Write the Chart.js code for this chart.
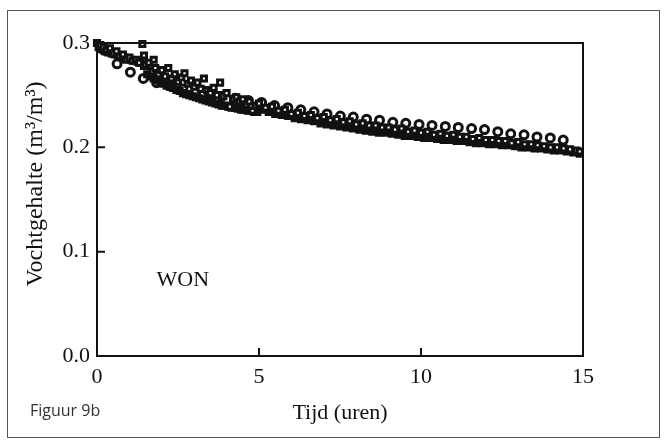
<!DOCTYPE html>
<html>
<head>
<meta charset="utf-8">
<script src="https://cdn.jsdelivr.net/npm/chart.js@4.4.0/dist/chart.umd.min.js"></script>
<style>
  html, body { margin: 0; padding: 0; background: #fff; }
  #wrap { position: relative; width: 667px; height: 443px; }
</style>
</head>
<body>
<div id="wrap"><canvas id="chart" width="667" height="443"></canvas></div>
<script>
// squares (measured, dense) - upper part of the band
const sqTime = [0.0, 0.1, 0.2, 0.3, 0.4, 0.5, 0.6, 0.7, 0.8, 0.9,
  1.0, 1.1, 1.2, 1.3, 1.4, 1.45, 1.5, 1.6, 1.7, 1.75, 1.8, 1.9,
  2.0, 2.1, 2.2, 2.3, 2.4, 2.5, 2.6, 2.7, 2.8, 2.9,
  3.0, 3.1, 3.2, 3.3, 3.4, 3.5, 3.6, 3.7, 3.8, 3.9,
  4.0, 4.1, 4.2, 4.3, 4.4, 4.5, 4.6, 4.7, 4.8, 4.9, 5.0,
  5.2, 5.4, 5.6, 5.8, 6.0, 6.2, 6.4, 6.6, 6.8, 7.0,
  7.2, 7.4, 7.6, 7.8, 8.0, 8.2, 8.4, 8.6, 8.8, 9.0,
  9.2, 9.4, 9.6, 9.8, 10.0, 10.2, 10.4, 10.6, 10.8, 11.0,
  11.2, 11.4, 11.6, 11.8, 12.0, 12.2, 12.4, 12.6, 12.8, 13.0,
  13.2, 13.4, 13.6, 13.8, 14.0, 14.2, 14.4, 14.6, 14.8, 14.9];
const sqValue = [0.300, 0.298, 0.296, 0.293, 0.295, 0.290, 0.292, 0.287, 0.289, 0.284,
  0.286, 0.283, 0.284, 0.281, 0.299, 0.288, 0.279, 0.281, 0.273, 0.284, 0.276, 0.270,
  0.274, 0.268, 0.276, 0.266, 0.270, 0.263, 0.267, 0.271, 0.261, 0.264,
  0.258, 0.262, 0.256, 0.266, 0.255, 0.252, 0.257, 0.250, 0.262, 0.249,
  0.252, 0.239, 0.246, 0.248, 0.244, 0.246, 0.241, 0.244, 0.235, 0.240, 0.242,
  0.238, 0.239, 0.235, 0.236, 0.232, 0.233, 0.230, 0.231, 0.228, 0.229,
  0.226, 0.227, 0.224, 0.225, 0.222, 0.223, 0.221, 0.221, 0.219, 0.219,
  0.217, 0.218, 0.215, 0.216, 0.214, 0.215, 0.212, 0.213, 0.211, 0.212,
  0.210, 0.210, 0.208, 0.209, 0.207, 0.207, 0.206, 0.206, 0.204, 0.205,
  0.203, 0.203, 0.202, 0.201, 0.200, 0.200, 0.199, 0.198, 0.197, 0.196];

// squares - lower part of the band
const sqTimeB = [0.05, 0.15, 0.25, 0.35, 0.45, 0.55, 0.65, 0.75, 0.85, 0.95,
  1.05, 1.15, 1.25, 1.35, 1.45, 1.55, 1.65, 1.75, 1.85, 1.95,
  2.05, 2.15, 2.25, 2.35, 2.45, 2.55, 2.65, 2.75, 2.85, 2.95,
  3.05, 3.15, 3.25, 3.35, 3.45, 3.55, 3.65, 3.75, 3.85, 3.95,
  4.05, 4.15, 4.25, 4.35, 4.45, 4.55, 4.65, 4.75, 4.85, 4.95,
  5.1, 5.3, 5.5, 5.7, 5.9, 6.1, 6.3, 6.5, 6.7, 6.9,
  7.1, 7.3, 7.5, 7.7, 7.9, 8.1, 8.3, 8.5, 8.7, 8.9,
  9.1, 9.3, 9.5, 9.7, 9.9, 10.1, 10.3, 10.5, 10.7, 10.9,
  11.1, 11.3, 11.5, 11.7, 11.9, 12.1, 12.3, 12.5, 12.7, 12.9,
  13.1, 13.3, 13.5, 13.7, 13.9, 14.1, 14.3, 14.5, 14.7, 14.9];
const sqValueB = [0.296, 0.294, 0.293, 0.291, 0.290, 0.289, 0.288, 0.287, 0.286, 0.285,
  0.284, 0.283, 0.282, 0.281, 0.278, 0.270, 0.268, 0.266, 0.264, 0.263,
  0.261, 0.259, 0.258, 0.257, 0.255, 0.254, 0.252, 0.251, 0.250, 0.249,
  0.248, 0.247, 0.246, 0.245, 0.244, 0.243, 0.242, 0.241, 0.240, 0.240,
  0.239, 0.238, 0.238, 0.237, 0.236, 0.236, 0.235, 0.235, 0.234, 0.234,
  0.236, 0.234, 0.232, 0.231, 0.230, 0.228, 0.227, 0.226, 0.225, 0.223,
  0.222, 0.221, 0.220, 0.219, 0.218, 0.217, 0.216, 0.215, 0.214, 0.214,
  0.213, 0.212, 0.211, 0.211, 0.210, 0.209, 0.209, 0.208, 0.207, 0.207,
  0.206, 0.206, 0.205, 0.204, 0.204, 0.203, 0.203, 0.202, 0.202, 0.201,
  0.200, 0.200, 0.199, 0.199, 0.198, 0.197, 0.197, 0.196, 0.195, 0.194];

// open circles
const circTime = [0.22, 0.62, 1.03, 1.43, 1.84, 2.24, 2.65, 3.05, 3.46, 3.86,
  4.27, 4.67, 5.08, 5.48, 5.89, 6.29, 6.70, 7.10, 7.51, 7.91,
  8.32, 8.72, 9.13, 9.53, 9.94, 10.34, 10.75, 11.15, 11.56, 11.96,
  12.37, 12.77, 13.18, 13.58, 13.99, 14.39];
const circValue = [0.293, 0.280, 0.272, 0.266, 0.262, 0.259, 0.256, 0.253, 0.251, 0.249,
  0.247, 0.245, 0.243, 0.240, 0.238, 0.236, 0.234, 0.232, 0.230, 0.229,
  0.227, 0.226, 0.224, 0.223, 0.222, 0.221, 0.220, 0.219, 0.218, 0.217,
  0.215, 0.213, 0.212, 0.210, 0.209, 0.207];

const xTickLabels = ['0', '5', '10', '15'];
const yTickLabels = ['0.0', '0.1', '0.2', '0.3'];
const yTitle = 'Vochtgehalte (m\u00B3/m\u00B3)';
const xTitle = 'Tijd (uren)';
const plotLabel = 'WON';
const figLabel = 'Figuur 9b';

const serif = '"Liberation Serif", "Times New Roman", serif';
const ink = '#111';

const pairs = (xs, ys) => xs.map((x, i) => ({ x: x, y: ys[i] }));

const squareStyle = {
  pointStyle: 'rect',
  pointRadius: 3.6,
  borderWidth: 3,
  borderColor: ink,
  backgroundColor: '#fff',
  showLine: false,
  clip: false,
};

const paperPlugin = {
  id: 'paper',
  beforeDraw(chart) {
    const ctx = chart.ctx;
    ctx.save();
    ctx.fillStyle = '#fff';
    ctx.fillRect(0, 0, chart.width, chart.height);
    ctx.strokeStyle = '#555';
    ctx.lineWidth = 1;
    ctx.strokeRect(7.5, 10.5, 652, 427);
    ctx.restore();
  },
  afterDraw(chart) {
    const ctx = chart.ctx;
    const a = chart.chartArea;
    const xs = chart.scales.x, ys = chart.scales.y;
    ctx.save();
    ctx.strokeStyle = ink;
    ctx.lineWidth = 2;
    ctx.strokeRect(a.left, a.top, a.right - a.left, a.bottom - a.top);
    // inward ticks
    ctx.beginPath();
    [0.1, 0.2].forEach(v => {
      const py = ys.getPixelForValue(v);
      ctx.moveTo(a.left, py); ctx.lineTo(a.left + 8, py);
    });
    [5, 10].forEach(v => {
      const px = xs.getPixelForValue(v);
      ctx.moveTo(px, a.bottom); ctx.lineTo(px, a.bottom - 8);
    });
    ctx.stroke();
    // y title
    ctx.fillStyle = ink;
    ctx.font = '24px ' + serif;
    ctx.textAlign = 'center';
    ctx.textBaseline = 'middle';
    ctx.translate(36, 184);
    ctx.rotate(-Math.PI / 2);
    ctx.fillText(yTitle, 0, 0);
    ctx.restore();
    // label in plot
    ctx.save();
    ctx.fillStyle = ink;
    ctx.font = '22px ' + serif;
    ctx.textAlign = 'center';
    ctx.textBaseline = 'middle';
    ctx.fillText(plotLabel, xs.getPixelForValue(2.65), ys.getPixelForValue(0.073));
    // figure caption
    ctx.font = '16px "Open Sans", sans-serif';
    ctx.fillStyle = '#333';
    ctx.textAlign = 'left';
    ctx.fillText(figLabel, 30, 411);
    ctx.restore();
  }
};

new Chart(document.getElementById('chart'), {
  type: 'scatter',
  data: {
    datasets: [
      Object.assign({ label: 'squares', data: pairs(sqTime, sqValue) }, squareStyle),
      Object.assign({ label: 'squares b', data: pairs(sqTimeB, sqValueB) }, squareStyle, { backgroundColor: ink }),
      {
        label: 'circles',
        data: pairs(circTime, circValue),
        pointStyle: 'circle',
        pointRadius: 4,
        borderWidth: 3,
        borderColor: ink,
        backgroundColor: '#fff',
        showLine: false,
        clip: false,
      },
    ],
  },
  options: {
    responsive: false,
    animation: false,
    events: [],
    layout: { padding: { left: 10, top: 43, right: 84, bottom: 12 } },
    plugins: {
      legend: { display: false },
      tooltip: { enabled: false },
      title: { display: false },
    },
    scales: {
      x: {
        type: 'linear',
        min: 0,
        max: 15,
        afterFit: (s) => { s.height = 75; },
        grid: { display: false, drawTicks: false },
        border: { display: false },
        ticks: {
          stepSize: 5,
          padding: 8,
          color: ink,
          font: { family: serif, size: 22 },
          maxRotation: 0,
          callback: (v, i) => xTickLabels[i],
        },
        title: {
          display: true,
          text: xTitle,
          color: ink,
          font: { family: serif, size: 22 },
          padding: { top: 0, bottom: 5 },
        },
      },
      y: {
        min: 0,
        max: 0.3,
        afterFit: (s) => { s.width = 87; },
        grid: { display: false, drawTicks: false },
        border: { display: false },
        ticks: {
          stepSize: 0.1,
          padding: 7,
          color: ink,
          font: { family: serif, size: 22 },
          callback: (v, i) => yTickLabels[i],
        },
      },
    },
  },
  plugins: [paperPlugin],
});
</script>
</body>
</html>
